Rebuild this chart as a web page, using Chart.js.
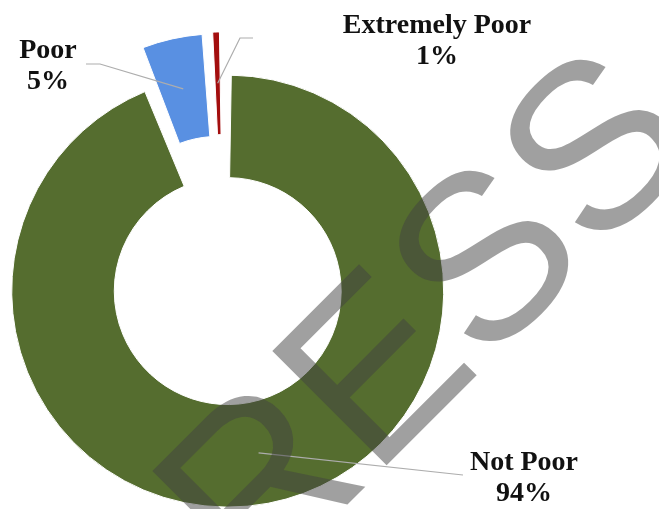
<!DOCTYPE html>
<html>
<head>
<meta charset="utf-8">
<script src="https://cdn.jsdelivr.net/npm/chart.js@4.4.1/dist/chart.umd.min.js"></script>
<style>
  html, body { margin: 0; padding: 0; background: #fff; overflow: hidden; width: 659px; height: 509px; }
  #wrap { position: absolute; left: -30px; top: -10px; width: 700px; height: 530px; }
</style>
</head>
<body>
<div id="wrap"><canvas id="donut"></canvas></div>
<script>
const categories = ['Not Poor', 'Poor', 'Extremely Poor'];
const shares = [94, 5, 1];

const sliceColors = ['#556d2f', '#5990e2', '#a30e0e'];
const sliceOffsets = [90, 100, 90];

// the canvas sits a bit up/left of the page so the ring can run off the edges
const SHIFT_X = 30, SHIFT_Y = 10;

// label blocks in page coords: centre x, first baseline, start of the leader line
const labelSpots = [
    {x: 524, y: 470, line: [[463, 475]]},
    {x: 48, y: 58, line: [[86, 64], [100, 64]]},
    {x: 437, y: 33, line: [[253, 38], [240, 38]]}
];

const calloutPlugin = {
    id: 'callouts',
    afterDatasetsDraw(chart) {
        const ctx = chart.ctx;
        const arcs = chart.getDatasetMeta(0).data;
        ctx.save();
        arcs.forEach((arc, i) => {
            const p = arc.getProps(['x', 'y', 'startAngle', 'endAngle', 'innerRadius', 'outerRadius'], true);
            // same shift the arc element applies when it draws an offset slice
            const a = (arc.options.offset || 0) / 4;
            const fix = 1 - Math.sin(Math.min(Math.PI, p.endAngle - p.startAngle));
            const mid = (p.startAngle + p.endAngle) / 2;
            const r = a + a * fix + (p.innerRadius + p.outerRadius) / 2;
            const px = p.x + Math.cos(mid) * r;
            const py = p.y + Math.sin(mid) * r;

            const spot = labelSpots[i];
            ctx.beginPath();
            spot.line.forEach(([lx, ly], k) => {
                if (k === 0) ctx.moveTo(lx + SHIFT_X, ly + SHIFT_Y);
                else ctx.lineTo(lx + SHIFT_X, ly + SHIFT_Y);
            });
            ctx.lineTo(px, py);
            ctx.strokeStyle = '#adadad';
            ctx.lineWidth = 1.2;
            ctx.stroke();

            ctx.fillStyle = '#111';
            ctx.font = 'bold 28px "Liberation Serif", "Times New Roman", serif';
            ctx.textAlign = 'center';
            ctx.textBaseline = 'alphabetic';
            ctx.fillText(categories[i], spot.x + SHIFT_X, spot.y + SHIFT_Y);
            ctx.fillText(shares[i] + '%', spot.x + SHIFT_X, spot.y + 31 + SHIFT_Y);
        });
        ctx.restore();
    },
    afterDraw(chart) {
        // diagonal stamp across the chart
        const ctx = chart.ctx;
        ctx.save();
        ctx.translate(253 + SHIFT_X, 599 + SHIFT_Y);
        ctx.rotate(-Math.PI / 4);
        ctx.font = '235px "Liberation Sans", Arial, sans-serif';
        ctx.fillStyle = 'rgba(65, 65, 65, 0.5)';
        ctx.textBaseline = 'alphabetic';
        ctx.fillText('RESS', 0, 0);
        ctx.restore();
    }
};

const ctx = document.getElementById('donut').getContext('2d');
const donut = new Chart(ctx, {
    type: 'doughnut',
    data: {
        labels: categories,
        datasets: [{
            data: shares,
            backgroundColor: sliceColors,
            borderColor: '#ffffff',
            borderWidth: 1,
            offset: sliceOffsets
        }]
    },
    options: {
        responsive: true,
        maintainAspectRatio: false,
        animation: false,
        events: [],
        cutout: '47%',
        layout: {
            padding: {left: 9.5, top: 35, right: 202.5, bottom: 7}
        },
        plugins: {
            legend: {display: false},
            tooltip: {enabled: false}
        }
    },
    plugins: [calloutPlugin]
});
</script>
</body>
</html>
